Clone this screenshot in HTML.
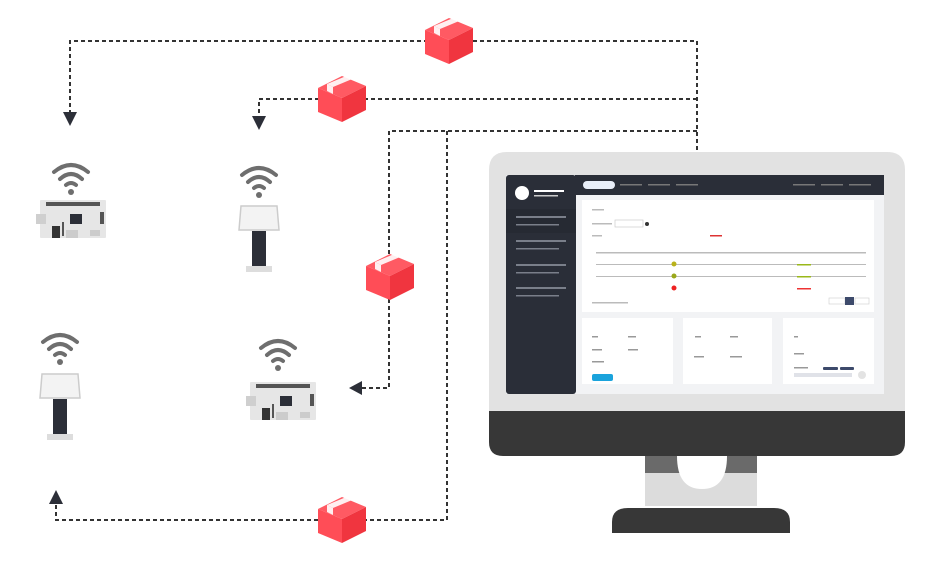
<!DOCTYPE html>
<html><head><meta charset="utf-8"><style>
html,body{margin:0;padding:0;background:#fff;width:938px;height:574px;overflow:hidden;font-family:"Liberation Sans",sans-serif}
</style></head><body>
<svg width="938" height="574" viewBox="0 0 938 574" xmlns="http://www.w3.org/2000/svg">
<defs>
<g id="box">
  <polygon points="0,12 24,0 48,10 24,22" fill="#ff5a63"/>
  <polygon points="0,12 24,22 24,46 0,36" fill="#ff4d57"/>
  <polygon points="24,22 48,10 48,34 24,46" fill="#f0353f"/>
  <polygon points="9,8 33,-2 39,1 15,11" fill="#fff" opacity="0.9"/>
  <polygon points="9,8 15,11 15,18 9,15" fill="#fff" opacity="0.9"/>
</g>
<g id="wifi" fill="none" stroke="#6e6e6e" stroke-width="4" stroke-linecap="round">
  <path d="M-17,-6 Q0,-20 17,-6"/>
  <path d="M-11,1 Q0,-9 11,1"/>
  <path d="M-5,7 Q0,3 5,7"/>
  <circle cx="0" cy="14" r="3" fill="#6e6e6e" stroke="none"/>
</g>
<g id="board">
  <rect x="0" y="0" width="66" height="38" fill="#e6e6e6" rx="1"/>
  <rect x="6" y="2" width="54" height="4" fill="#555"/>
  <rect x="-4" y="14" width="10" height="10" fill="#cfcfcf"/>
  <rect x="30" y="14" width="12" height="10" fill="#2c2f38"/>
  <rect x="60" y="12" width="4" height="12" fill="#555"/>
  <rect x="12" y="26" width="8" height="12" fill="#333"/>
  <rect x="22" y="22" width="2" height="14" fill="#555"/>
  <rect x="26" y="30" width="12" height="8" fill="#ccc"/>
  <rect x="50" y="30" width="10" height="6" fill="#ccc"/>
</g>
<g id="kiosk">
  <polygon points="-18,0 18,0 20,24 -20,24" fill="#f3f3f3" stroke="#ccc" stroke-width="1.5"/>
  <rect x="-7" y="25" width="14" height="36" fill="#2c2f38"/>
  <rect x="-13" y="60" width="26" height="6" fill="#ddd"/>
</g>
</defs>

<g fill="none" stroke="#333" stroke-width="2" stroke-dasharray="4 3">
  <polyline points="697,150 697,41 70,41 70,112"/>
  <polyline points="697,99 259,99 259,116"/>
  <polyline points="697,131 389,131 389,388 362,388"/>
  <polyline points="447,131 447,520 56,520 56,504"/>
</g>
<g fill="#2c2f38">
  <polygon points="63,112 77,112 70,126"/>
  <polygon points="252,116 266,116 259,130"/>
  <polygon points="362,381 362,395 349,388"/>
  <polygon points="49,504 63,504 56,490"/>
</g>

<use href="#box" x="425" y="18"/>
<use href="#box" x="318" y="76"/>
<use href="#box" x="366" y="254"/>
<use href="#box" x="318" y="497"/>

<use href="#wifi" x="71" y="178"/>
<use href="#board" x="40" y="200"/>
<use href="#wifi" x="259" y="181"/>
<use href="#kiosk" x="259" y="206"/>
<use href="#wifi" x="60" y="348"/>
<use href="#kiosk" x="60" y="374"/>
<use href="#wifi" x="278" y="354"/>
<use href="#board" x="250" y="382"/>

<!-- monitor -->
<path d="M489,170 Q489,152 507,152 L887,152 Q905,152 905,170 L905,412 L489,412 Z" fill="#e2e2e2"/>
<path d="M489,411 L905,411 L905,442 Q905,456 891,456 L503,456 Q489,456 489,442 Z" fill="#373737"/>
<rect x="645" y="456" width="112" height="50" fill="#dcdcdc"/>
<rect x="645" y="456" width="112" height="17" fill="#6a6a6a"/>
<path d="M677,456 L727,456 Q727,489 702,489 Q677,489 677,456 Z" fill="#fff"/>
<path d="M612,533 L612,522 Q612,508 628,508 L774,508 Q790,508 790,522 L790,533 Z" fill="#373737"/>
<!-- screen -->
<rect x="506" y="175" width="378" height="219" fill="#f2f3f5"/>
<rect x="506" y="175" width="70" height="219" rx="3" fill="#2a2e38"/>
<rect x="575" y="175" width="309" height="20" fill="#2a2e38"/>
<circle cx="522" cy="193" r="7" fill="#fff"/>
<rect x="534" y="190" width="30" height="2" fill="#fff"/><rect x="534" y="195" width="24" height="1.5" fill="#ccc"/>
<rect x="506" y="209" width="70" height="24" fill="#262a33"/>
<g fill="#7a7f8a"><rect x="516" y="216" width="50" height="2"/><rect x="516" y="224" width="43" height="1.5"/>
<rect x="516" y="240" width="50" height="2"/><rect x="516" y="248" width="43" height="1.5"/>
<rect x="516" y="264" width="50" height="2"/><rect x="516" y="272" width="43" height="1.5"/>
<rect x="516" y="287" width="50" height="2"/><rect x="516" y="295" width="43" height="1.5"/></g>
<rect x="583" y="181" width="32" height="8" rx="4" fill="#e8eef8"/>
<g fill="#777"><rect x="620" y="184" width="22" height="1.5"/><rect x="648" y="184" width="22" height="1.5"/><rect x="676" y="184" width="22" height="1.5"/>
<rect x="793" y="184" width="22" height="1.5"/><rect x="821" y="184" width="22" height="1.5"/><rect x="849" y="184" width="22" height="1.5"/></g>
<rect x="582" y="200" width="292" height="112" fill="#fff"/>
<g fill="#bbb"><rect x="592" y="209" width="12" height="1.5"/><rect x="592" y="223" width="20" height="1.5"/><rect x="592" y="235" width="10" height="1.5"/>
<rect x="596" y="252" width="270" height="1.5"/><rect x="596" y="264" width="270" height="1"/><rect x="596" y="276" width="270" height="1"/>
<rect x="592" y="302" width="36" height="1.5"/></g>
<rect x="615" y="220" width="28" height="7" fill="#fff" stroke="#ccc" stroke-width="0.7"/>
<circle cx="647" cy="224" r="2" fill="#333"/>
<rect x="710" y="235" width="12" height="1.5" fill="#d33"/>
<circle cx="674" cy="264" r="2.5" fill="#b9b21a"/><circle cx="674" cy="276" r="2.5" fill="#9aa81a"/><circle cx="674" cy="288" r="2.5" fill="#e22"/>
<rect x="797" y="264" width="14" height="1.5" fill="#9ab81a"/><rect x="797" y="276" width="14" height="1.5" fill="#9ab81a"/><rect x="797" y="288" width="14" height="1.5" fill="#e33"/>
<rect x="829" y="298" width="16" height="6" fill="#fff" stroke="#ccc" stroke-width="0.6"/>
<rect x="845" y="297" width="9" height="8" fill="#3d4a6b"/>
<rect x="855" y="298" width="14" height="6" fill="#fff" stroke="#ccc" stroke-width="0.6"/>
<rect x="582" y="318" width="91" height="66" fill="#fff"/>
<rect x="683" y="318" width="89" height="66" fill="#fff"/>
<rect x="783" y="318" width="91" height="66" fill="#fff"/>
<rect x="592" y="374" width="21" height="7" rx="2" fill="#1aa3dc"/>
<rect x="823" y="367" width="15" height="3" rx="1" fill="#3d4a6b"/><rect x="840" y="367" width="14" height="3" rx="1" fill="#3d4a6b"/>
<rect x="794" y="373" width="58" height="4" fill="#e0e2e8"/><circle cx="862" cy="375" r="4" fill="#e3e3e3"/>
<g fill="#999"><rect x="592" y="336" width="6" height="1.5"/><rect x="628" y="336" width="8" height="1.5"/><rect x="592" y="349" width="10" height="1.5"/><rect x="628" y="349" width="10" height="1.5"/><rect x="592" y="361" width="12" height="1.5"/>
<rect x="695" y="336" width="6" height="1.5"/><rect x="730" y="336" width="8" height="1.5"/><rect x="694" y="356" width="10" height="1.5"/><rect x="730" y="356" width="12" height="1.5"/>
<rect x="794" y="336" width="4" height="1.5"/><rect x="794" y="353" width="10" height="1.5"/><rect x="794" y="367" width="14" height="1.5"/></g>
</svg>
</body></html>
